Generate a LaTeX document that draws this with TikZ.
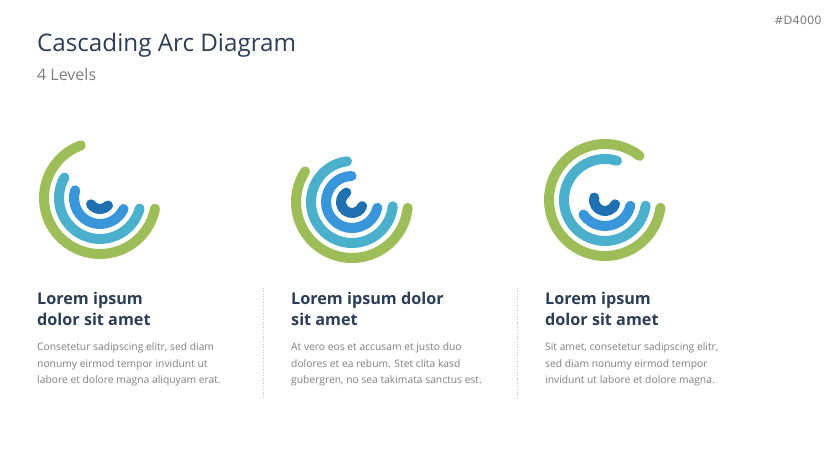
\documentclass[tikz,border=0pt]{standalone}
\usepackage{fontspec}
\setmainfont{Open Sans}
\newfontfamily\codefont{DejaVu Sans}
\usepackage{xcolor}
\usetikzlibrary{positioning}
\definecolor{arcgreen}{HTML}{9CBD58}
\definecolor{arcteal}{HTML}{4AB0CB}
\definecolor{arcblue}{HTML}{3A96DA}
\definecolor{arcdark}{HTML}{1E70B0}
\definecolor{navy}{HTML}{2C3E55}
\definecolor{bodygray}{HTML}{7F7F7F}
\definecolor{sepgray}{HTML}{C4C4C4}

\begin{document}
\begin{tikzpicture}[x=1pt, y=1pt,
		ring/.style={line width=10pt, line cap=round},
		headtext/.style={anchor=base west, inner sep=0pt, align=left, text=navy,
			font=\fontsize{16.2}{21.5}\selectfont\bfseries},
		bodytext/.style={anchor=base west, inner sep=0pt, align=left, text=bodygray,
			font=\fontsize{10.3}{16.5}\selectfont},
		sep/.style={draw=sepgray, line width=0.8pt, dotted}]
				  \fill[white] (0,0) rectangle (836,470);
				  \useasboundingbox (0,0) rectangle (836,470);
				  \node[anchor=base west, inner sep=0pt, text=navy, font=\fontsize{24.2}{28}\selectfont] (title) at (37,418) {Cascading Arc Diagram};
				  \node[anchor=base west, inner sep=0pt, text=bodygray, font=\fontsize{16}{18}\selectfont] (subtitle) at (37,389) {4 Levels};
				  \node[anchor=base east, inner sep=0pt, text=bodygray, font=\codefont\fontsize{11.5}{13}\selectfont] (code) at (822,445) {\#D4000};
				  \coordinate (c1) at (100,272);
				  \coordinate (c2) at (352,268);
				  \coordinate (c3) at (605,270);
				  \draw[ring, arcgreen] ([shift={(110:56)}]c1) arc[start angle=110, end angle=349, radius=56];
				  \draw[ring, arcteal] ([shift={(150:41)}]c1) arc[start angle=150, end angle=345, radius=41];
				  \draw[ring, arcblue] ([shift={(163:26)}]c1) arc[start angle=163, end angle=335, radius=26];
				  \draw[ring, arcdark] ([shift={(215:11)}]c1) arc[start angle=215, end angle=317, radius=11];
				  \draw[ring, arcgreen] ([shift={(147:56)}]c2) arc[start angle=147, end angle=354, radius=56];
				  \draw[ring, arcteal] ([shift={(97:41)}]c2) arc[start angle=97, end angle=354, radius=41];
				  \draw[ring, arcblue] ([shift={(91:26)}]c2) arc[start angle=91, end angle=347, radius=26];
				  \draw[ring, arcdark] ([shift={(121:11)}]c2) arc[start angle=121, end angle=338, radius=11];
				  \draw[ring, arcgreen] ([shift={(52:56)}]c3) arc[start angle=52, end angle=352, radius=56];
				  \draw[ring, arcteal] ([shift={(73:41)}]c3) arc[start angle=73, end angle=352, radius=41];
				  \draw[ring, arcblue] ([shift={(214:26)}]c3) arc[start angle=214, end angle=347, radius=26];
				  \draw[ring, arcdark] ([shift={(167:11)}]c3) arc[start angle=167, end angle=337, radius=11];
				  \node[headtext] (head1) at (37,144) {Lorem ipsum\\dolor sit amet};
				  \node[headtext] (head2) at (291,144) {Lorem ipsum dolor\\sit amet};
				  \node[headtext] (head3) at (545,144) {Lorem ipsum\\dolor sit amet};
				  \node[bodytext] (body1) at (37,86) {Consetetur sadipscing elitr, sed diam\\nonumy eirmod tempor invidunt ut\\labore et dolore magna aliquyam erat.};
				  \node[bodytext] (body2) at (291,86) {At vero eos et accusam et justo duo\\dolores et ea rebum. Stet clita kasd\\gubergren, no sea takimata sanctus est.};
				  \node[bodytext] (body3) at (545,86) {Sit amet, consetetur sadipscing elitr,\\sed diam nonumy eirmod tempor\\invidunt ut labore et dolore magna.};
				  \coordinate (s1a) at (263,182);
				  \coordinate (s1b) at (263,72);
				  \coordinate (s2a) at (517,182);
				  \coordinate (s2b) at (517,72);
				  \draw[sep] (s1a) -- (s1b);
				  \draw[sep] (s2a) -- (s2b);
				\end{tikzpicture}
\end{document}
